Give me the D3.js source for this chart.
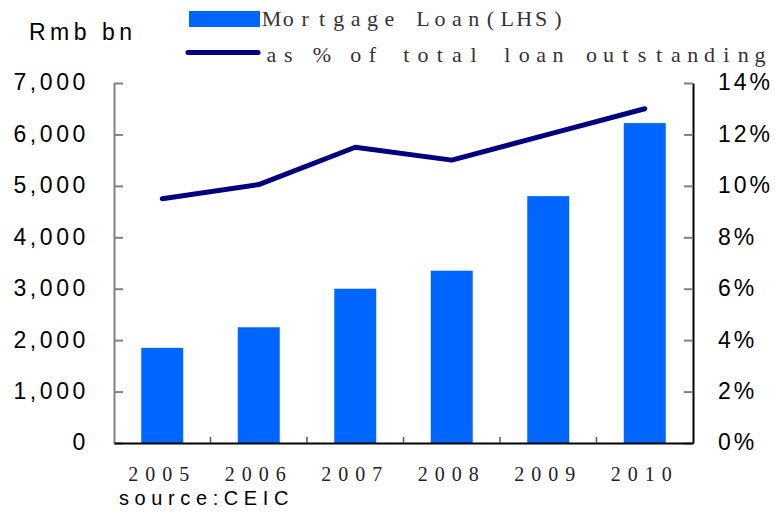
<!DOCTYPE html>
<html>
<head>
<meta charset="utf-8">
<script src="https://cdn.jsdelivr.net/npm/d3@7/dist/d3.min.js"></script>
<style>
  html, body { margin: 0; padding: 0; background: #fff; }
  svg { display: block; }
</style>
</head>
<body>
<svg id="chart" width="775" height="517"></svg>
<script>
// Mortgage loans (Rmb bn) and share of total loans outstanding (%)
const years = ["2005", "2006", "2007", "2008", "2009", "2010"];
const mortgageLoan = [1850, 2250, 3000, 3350, 4800, 6220];
const shareOfTotal = [9.5, 10.05, 11.5, 11.0, 12.0, 13.0];
const leftTicks = [0, 1000, 2000, 3000, 4000, 5000, 6000, 7000];
const rightTicks = [0, 2, 4, 6, 8, 10, 12, 14];
const legendLabels = ["Mortgage Loan(LHS)", "as % of total loan outstanding"];

const svg = d3.select("#chart");
const m = { left: 114, right: 693, top: 83, bottom: 443 };

const x = d3.scaleBand().domain(years).range([m.left, m.right]).paddingInner(0.565).paddingOuter(0.2825);
const xb = d3.scaleBand().domain(years).range([m.left, m.right]);
const yL = d3.scaleLinear().domain([0, 7000]).range([m.bottom, m.top]);
const yR = d3.scaleLinear().domain([0, 14]).range([m.bottom, m.top]);

const sans = "'Liberation Sans', Arial, sans-serif";
const serif = "'Liberation Serif', 'Times New Roman', serif";

// bars
svg.append("g").selectAll("rect").data(years).join("rect")
  .attr("x", d => x(d))
  .attr("y", (d, i) => yL(mortgageLoan[i]))
  .attr("width", x.bandwidth())
  .attr("height", (d, i) => yL(0) - yL(mortgageLoan[i]))
  .attr("fill", "#0066FF");

// line
const line = d3.line()
  .x((d, i) => xb(years[i]) + xb.bandwidth() / 2)
  .y(d => yR(d));
svg.append("path").datum(shareOfTotal)
  .attr("d", line)
  .attr("fill", "none")
  .attr("stroke", "#000080")
  .attr("stroke-width", 5)
  .attr("stroke-linecap", "round")
  .attr("stroke-linejoin", "round");

// left axis
const gl = svg.append("g").attr("transform", `translate(${m.left},0)`)
  .call(d3.axisLeft(yL).tickValues(leftTicks).tickSizeInner(-9).tickSizeOuter(0)
    .tickFormat(d3.format(",")));
gl.select(".domain").attr("stroke", "#808080").attr("stroke-width", 2);
gl.selectAll(".tick line").attr("stroke", "#808080").attr("stroke-width", 2);
gl.selectAll(".tick text").attr("font-family", sans).attr("font-size", 23)
  .attr("letter-spacing", 3.6).attr("fill", "#000").attr("x", -25).attr("dy", "0.3em");

// right axis
const gr = svg.append("g").attr("transform", `translate(${m.right},0)`)
  .call(d3.axisRight(yR).tickValues(rightTicks).tickSizeInner(-9).tickSizeOuter(0)
    .tickFormat(d => d + "%"));
gr.select(".domain").attr("stroke", "#000").attr("stroke-width", 2);
gr.selectAll(".tick line").attr("stroke", "#808080").attr("stroke-width", 2);
gr.selectAll(".tick text").attr("font-family", sans).attr("font-size", 23)
  .attr("letter-spacing", 3).attr("fill", "#000").attr("x", 25).attr("dy", "0.3em");

// bottom axis
const gb = svg.append("g").attr("transform", `translate(0,${m.bottom})`)
  .call(d3.axisBottom(xb).tickSize(0).tickPadding(24));
gb.select(".domain").attr("stroke", "#000").attr("stroke-width", 2);
gb.selectAll(".tick text").attr("font-family", serif).attr("font-size", 20)
  .attr("letter-spacing", 7).attr("fill", "#222");
// category separators
svg.append("g").selectAll("line").data(years.slice(1)).join("line")
  .attr("x1", d => xb(d)).attr("x2", d => xb(d))
  .attr("y1", m.bottom).attr("y2", m.bottom - 6)
  .attr("stroke", "#555").attr("stroke-width", 1.5);

// unit label
svg.append("text").attr("x", 29).attr("y", 40).text("Rmb bn")
  .attr("font-family", sans).attr("font-size", 23).attr("letter-spacing", 4.5);

// legend
const legend = svg.append("g");
legend.append("rect").attr("x", 189).attr("y", 11).attr("width", 71).attr("height", 16).attr("fill", "#0066FF");
legend.append("line").attr("x1", 188).attr("x2", 258).attr("y1", 52.5).attr("y2", 52.5)
  .attr("stroke", "#000080").attr("stroke-width", 5).attr("stroke-linecap", "round");
// fixed-pitch legend text: every character centred in its own cell
const pitch = 16.85;
legend.selectAll("text.leg").data(legendLabels).join("text")
  .attr("class", "leg")
  .attr("y", (d, i) => i === 0 ? 26 : 62)
  .attr("x", d => Array.from(d).map((c, k) => (263 + pitch / 2 + k * pitch).toFixed(2)).join(" "))
  .attr("text-anchor", "middle")
  .attr("font-family", serif).attr("font-size", 22).attr("fill", "#333")
  .text(d => d);

// source
svg.append("text").attr("x", 119).attr("y", 505).text("source:CEIC")
  .attr("font-family", sans).attr("font-size", 20).attr("letter-spacing", 5.6);
</script>
</body>
</html>
